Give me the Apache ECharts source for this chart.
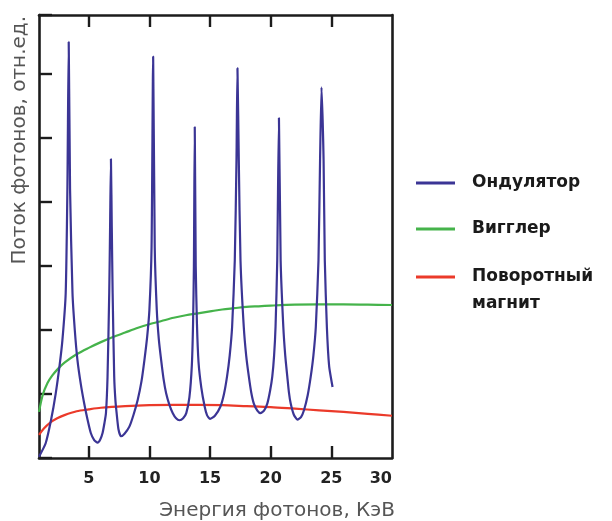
<!DOCTYPE html>
<html>
<head>
<meta charset="utf-8">
<script src="https://cdn.jsdelivr.net/npm/echarts@6/dist/echarts.min.js"></script>
<style>html,body{margin:0;padding:0;background:#fff}#c{width:612px;height:521px}</style>
</head>
<body>
<div id="c"></div>
<script>
// ---- data (energy keV, relative flux) ----
var xTickValues = [5, 10, 15, 20, 25];
var xLabelValues = [5, 10, 15, 20, 25, 30];
var seriesNames = ['Ондулятор', 'Вигглер', 'Поворотный магнит'];

var undulator = [
  [0.9,0.02],[1.45,0.23],[1.9,0.6],[2.28,1.01],[2.6,1.45],[2.83,1.84],[3.1,2.57],[3.24,4.2],[3.35,6.5],
  [3.46,4.2],[3.66,2.58],[3.85,2.0],[4.07,1.53],[4.35,1.15],[4.62,0.86],[4.9,0.6],[5.17,0.39],[5.45,0.28],
  [5.73,0.24],[5.95,0.29],[6.14,0.39],[6.3,0.55],[6.42,0.7],[6.55,1.27],[6.69,2.58],[6.76,3.6],[6.83,4.67],
  [6.9,3.6],[6.97,2.58],[7.1,1.27],[7.2,0.9],[7.3,0.7],[7.45,0.45],[7.66,0.34],[7.95,0.38],[8.35,0.49],
  [8.7,0.68],[9.04,0.91],[9.35,1.2],[9.59,1.53],[9.82,1.9],[10.0,2.31],[10.18,3.3],[10.31,6.27],[10.44,3.3],
  [10.61,2.31],[10.78,1.85],[10.97,1.53],[11.18,1.22],[11.38,1.01],[11.65,0.83],[11.93,0.7],[12.2,0.62],
  [12.48,0.59],[12.78,0.62],[13.04,0.7],[13.3,0.95],[13.5,1.45],[13.6,2.1],[13.67,3.0],[13.74,5.17],
  [13.82,3.0],[13.92,2.1],[14.05,1.5],[14.28,1.1],[14.56,0.8],[14.75,0.67],[15.0,0.61],[15.4,0.66],
  [15.85,0.8],[16.15,1.0],[16.4,1.27],[16.62,1.6],[16.82,2.05],[17.04,3.09],[17.18,4.66],[17.26,6.09],
  [17.37,4.66],[17.51,3.09],[17.78,2.05],[17.98,1.6],[18.2,1.27],[18.4,1.02],[18.61,0.85],[18.9,0.74],
  [19.16,0.7],[19.45,0.74],[19.72,0.85],[19.95,1.05],[20.13,1.27],[20.28,1.6],[20.4,2.05],[20.54,3.09],
  [20.68,5.31],[20.82,3.09],[21.04,2.05],[21.2,1.6],[21.37,1.27],[21.5,1.03],[21.65,0.85],[21.9,0.68],
  [22.2,0.6],[22.5,0.64],[22.75,0.75],[23.05,0.98],[23.3,1.27],[23.52,1.6],[23.72,2.05],[23.94,3.09],
  [24.07,4.66],[24.19,5.79],[24.36,4.66],[24.46,3.09],[24.63,2.05],[24.82,1.43],[25.1,1.11]
];

var wiggler = [
  [0.9,0.72],[1.2,0.98],[1.6,1.17],[2.0,1.29],[2.5,1.4],[3.0,1.49],[4.0,1.62],[5.0,1.72],[6.0,1.81],
  [7.0,1.89],[8.0,1.96],[9.0,2.03],[10,2.09],[11,2.14],[12,2.19],[13,2.23],[14,2.26],[15,2.29],
  [16,2.32],[17,2.34],[18,2.36],[19,2.37],[20,2.38],[22,2.395],[24,2.4],[26,2.4],[28,2.395],[30,2.39]
];

var bendingMagnet = [
  [0.9,0.36],[1.3,0.46],[1.8,0.55],[2.4,0.62],[3.0,0.67],[4.0,0.73],[5.0,0.76],[6.0,0.785],[8.0,0.81],
  [10,0.825],[12,0.83],[14,0.83],[16,0.825],[18,0.81],[20,0.795],[22,0.77],[24,0.745],[26,0.72],
  [28,0.69],[30,0.66]
];

var AX = '#1c1c1c';
var FONT = 'DejaVu Sans';
var chart = echarts.init(document.getElementById('c'), null, {renderer: 'canvas'});
var axisLine = {show: true, onZero: false, lineStyle: {color: AX, width: 2.6}};
var legendText = {fontFamily: FONT, fontSize: 17, fontWeight: 'bold', color: '#1a1a1a', padding: [0,0,0,12]};
chart.setOption({
  animation: false,
  backgroundColor: '#fff',
  textStyle: {fontFamily: FONT},
  grid: {left: 39, right: 220, top: 15, bottom: 63, containLabel: false},
  legend: [{
    data: [seriesNames[0], seriesNames[1]],
    orient: 'vertical', left: 416, top: 172, padding: 0,
    itemWidth: 39, itemHeight: 3, itemGap: 24, icon: 'rect',
    selectedMode: false,
    textStyle: Object.assign({lineHeight: 22}, legendText)
  }, {
    data: [seriesNames[2]],
    orient: 'vertical', left: 416, top: 236.5, padding: 0,
    itemWidth: 39, itemHeight: 3, icon: 'rect',
    selectedMode: false,
    formatter: function (n) { return '\n' + n.replace(' ', '\n'); },
    textStyle: Object.assign({lineHeight: 27}, legendText)
  }],
  xAxis: [{
    type: 'value', min: 0.9, max: 30, position: 'bottom',
    axisLine: axisLine,
    axisTick: {show: true, inside: true, length: 12, customValues: xTickValues, lineStyle: {color: AX, width: 2.4}},
    axisLabel: {show: true, customValues: xLabelValues, margin: 13, alignMaxLabel: 'right',
      color: '#222', fontFamily: FONT, fontSize: 16, fontWeight: 'bold'},
    splitLine: {show: false},
    name: 'Энергия фотонов, КэВ', nameLocation: 'end', nameGap: 3,
    nameTextStyle: {fontFamily: FONT, fontSize: 20, color: '#555', align: 'right', verticalAlign: 'top', padding: [43,0,0,0]}
  }, {
    type: 'value', min: 0.9, max: 30, position: 'top',
    axisLine: axisLine,
    axisTick: {show: true, inside: true, length: 12, customValues: xTickValues, lineStyle: {color: AX, width: 2.4}},
    axisLabel: {show: false}, splitLine: {show: false}
  }],
  yAxis: [{
    type: 'value', min: 0, max: 6.92, interval: 1, position: 'left',
    axisLine: axisLine,
    axisTick: {show: true, inside: true, length: 13, lineStyle: {color: AX, width: 2.4}},
    axisLabel: {show: false}, splitLine: {show: false},
    name: 'Поток фотонов, отн.ед.', nameLocation: 'end', nameGap: -1, nameRotate: 90,
    nameTextStyle: {fontFamily: FONT, fontSize: 20, color: '#555', align: 'right', verticalAlign: 'bottom', padding: [0,0,9,0]}
  }, {
    type: 'value', min: 0, max: 6.92, position: 'right',
    axisLine: axisLine, axisTick: {show: false}, axisLabel: {show: false}, splitLine: {show: false}
  }],
  series: [{
    name: seriesNames[1], type: 'line', data: wiggler, showSymbol: false, smooth: 0.3,
    lineStyle: {color: '#45b34b', width: 2.2}, itemStyle: {color: '#45b34b'}
  }, {
    name: seriesNames[2], type: 'line', data: bendingMagnet, showSymbol: false, smooth: 0.3,
    lineStyle: {color: '#eb3a2a', width: 2.2}, itemStyle: {color: '#eb3a2a'}
  }, {
    name: seriesNames[0], type: 'line', data: undulator, showSymbol: false, smooth: 0.2,
    lineStyle: {color: '#3b3595', width: 2.2}, itemStyle: {color: '#3b3595'}
  }]
});
</script>
</body>
</html>
